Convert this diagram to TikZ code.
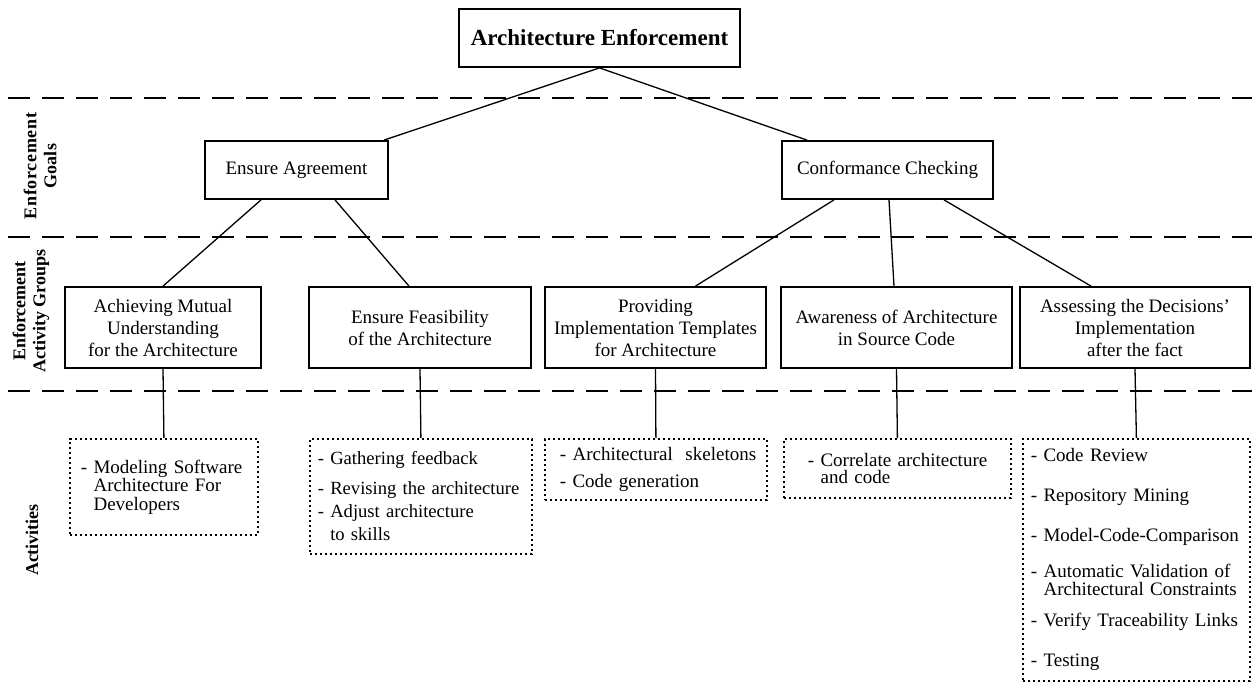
\documentclass[tikz,border=0pt]{standalone}
\usepackage{fontspec}
\setmainfont{Liberation Serif}
\newcommand\actline[1]{\mbox{#1}}
\begin{document}
\begin{tikzpicture}[x=1pt,y=-1pt,
  box/.style={draw, line width=1.8pt, inner sep=0pt, align=center, font=\fontsize{19}{22}\selectfont},
  goalbox/.style={box, minimum height=58pt},
  grpbox/.style={box, minimum height=81pt},
  actbox/.style={draw, line width=1.8pt, dash pattern=on 2.4pt off 2.6pt, align=left, inner ysep=0pt, anchor=north west},
  link/.style={line width=1.3pt},
  sepline/.style={line width=1.6pt, dash pattern=on 22pt off 12pt},
  sidelab/.style={rotate=90, font=\bfseries\fontsize{18}{20}\selectfont, align=center, inner sep=0pt}]
\useasboundingbox (0,0) rectangle (1252,682);

% separators
\coordinate (s1a) at (8,98);   \coordinate (s1b) at (1252,98);
\coordinate (s2a) at (8,237);  \coordinate (s2b) at (1252,237);
\coordinate (s3a) at (8,391);  \coordinate (s3b) at (1252,391);
\draw[sepline] (s1a) -- (s1b);
\draw[sepline] (s2a) -- (s2b);
\draw[sepline] (s3a) -- (s3b);

% side labels
\node[sidelab] (lgoal) at (40,166) {\addfontfeature{LetterSpace=4}Enforcement\\Goals};
\node[sidelab] (lgrp) at (31,311) {Enforcement\\Activity Groups};
\node[sidelab] (lact) at (32,540) {Activities};

% title
\node[box, minimum width=281pt, minimum height=58pt, font=\bfseries\fontsize{23}{27}\selectfont] (title) at (599.5,38) {Architecture Enforcement};

% goals
\node[goalbox, minimum width=183pt] (ea) at (296.5,170) {Ensure Agreement};
\node[goalbox, minimum width=211pt] (cc) at (887.5,170) {Conformance Checking};

% groups
\node[grpbox, minimum width=196pt] (ach) at (163,327.5) {Achieving Mutual\\ Understanding\\for the Architecture};
\node[grpbox, minimum width=222pt] (fea) at (420,327.5) {Ensure Feasibility\\of the Architecture};
\node[grpbox, minimum width=221pt] (prov) at (655.5,327.5) {Providing\\Implementation Templates\\for Architecture};
\node[grpbox, minimum width=231pt] (awa) at (896.5,327.5) {Awareness of Architecture\\in Source Code};
\node[grpbox, minimum width=230pt] (ass) at (1135,327.5) {Assessing the Decisions'\\Implementation\\after the fact};

% activities
\node[actbox, inner xsep=11pt, text width=166pt, minimum height=96pt, font=\fontsize{19}{18.5}\selectfont] (a1) at (69,438)
  {\actline{- Modeling Software}\\\actline{\phantom{- }Architecture For}\\\actline{\phantom{- }Developers}};
\node[actbox, inner xsep=8pt, text width=206pt, minimum height=115pt, font=\fontsize{18.6}{23}\selectfont] (a2) at (309,438)
  {\actline{- Gathering feedback}\\[7pt]\actline{- Revising the architecture}\\\actline{- Adjust architecture}\\\actline{\phantom{- }to skills}};
\node[actbox, inner xsep=15pt, text width=192pt, minimum height=61pt, font=\fontsize{19}{27}\selectfont] (a3) at (544,438)
  {\actline{- Architectural\ \ skeletons}\\\actline{- Code generation}};
\node[actbox, inner xsep=24pt, text width=179pt, minimum height=59pt, font=\fontsize{19}{17.5}\selectfont] (a4) at (783,438)
  {\actline{- Correlate architecture}\\\actline{\phantom{- }and code}};
\node[actbox, inner xsep=8pt, text width=211pt, minimum height=242pt, font=\fontsize{19}{18}\selectfont] (a5) at (1022,438)
  {\actline{- Code Review}\\[22pt]\actline{- Repository Mining}\\[22pt]\actline{- Model-Code-Comparison}\\[18pt]\actline{- Automatic Validation of}\\\actline{\phantom{- }Architectural Constraints}\\[13pt]\actline{- Verify Traceability Links}\\[22pt]\actline{- Testing}};

% connectors
\draw[link] (title.south) -- ([xshift=87.5pt]ea.north);
\draw[link] (title.south) -- ([xshift=-80.5pt]cc.north);
\draw[link] ([xshift=-35.5pt]ea.south) -- (ach.north);
\draw[link] ([xshift=38.5pt]ea.south) -- ([xshift=-11pt]fea.north);
\draw[link] ([xshift=-53.5pt]cc.south) -- ([xshift=40pt]prov.north);
\draw[link] ([xshift=1.5pt]cc.south) -- ([xshift=-2.5pt]awa.north);
\draw[link] ([xshift=56.5pt]cc.south) -- ([xshift=-44pt]ass.north);
\draw[link] (ach.south) -- (a1.north);
\draw[link] (fea.south) -- (a2.north);
\draw[link] (prov.south) -- (a3.north);
\draw[link] (awa.south) -- (a4.north);
\draw[link] (ass.south) -- (a5.north);
\end{tikzpicture}
\end{document}
